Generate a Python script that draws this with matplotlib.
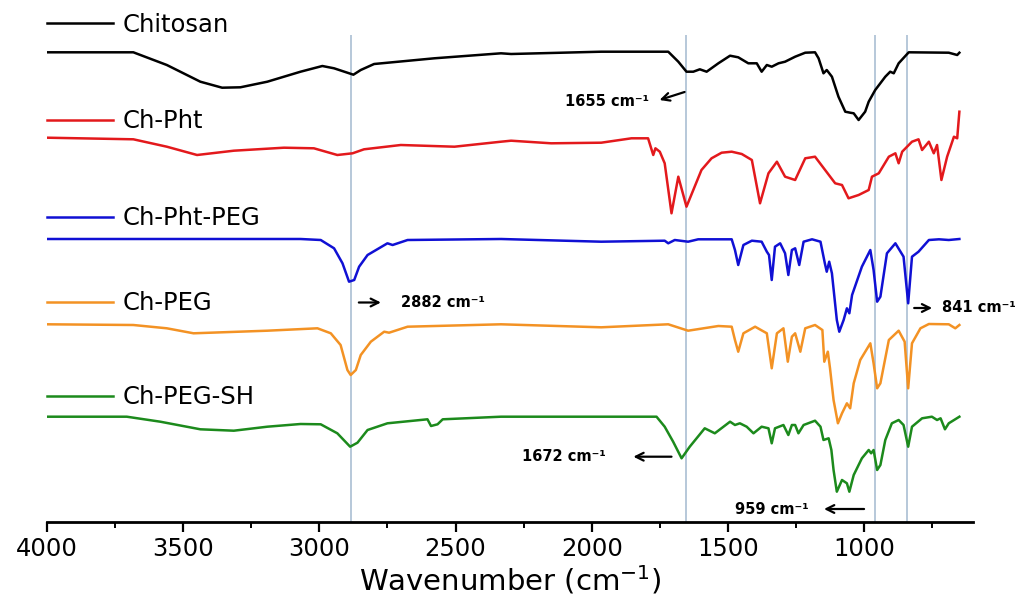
import matplotlib
matplotlib.use("Agg")
import matplotlib.pyplot as plt
from matplotlib.ticker import MultipleLocator
from matplotlib.legend import Legend

# ---------------- data (wavenumber cm-1, offset transmittance a.u.) ----------------
chitosan_wn = [4000, 3683, 3560, 3437, 3357, 3290, 3191, 3069, 2989, 2946, 2875, 2848, 2799, 2578,
               2333, 2296, 1965, 1719, 1682, 1652, 1627, 1603, 1578, 1535, 1492, 1462, 1425, 1394,
               1376, 1357, 1339, 1314, 1290, 1253, 1216, 1180, 1167, 1149, 1137, 1118, 1094, 1069,
               1051, 1038, 1020, 996, 983, 959, 922, 904, 891, 873, 836, 689, 658, 650]
chitosan_t = [469.7, 469.7, 457, 440.3, 434.3, 434.7, 440.3, 450.3, 456, 453.7, 447.3, 452, 458, 463.7,
              468.7, 468, 470.3, 470.3, 460.3, 450.3, 450.3, 452.7, 450.3, 458.7, 466.3, 464.7, 458.7, 458.7,
              450.3, 457, 455.3, 458.7, 460.3, 465.3, 469.3, 469.7, 463.7, 448.7, 452, 445.3, 425.3, 410.3,
              409.3, 408.7, 402, 410.3, 420.3, 432, 445.3, 450.3, 448.7, 458.7, 469.7, 469.3, 467, 469.3]

chpht_wn = [4000, 3683, 3560, 3449, 3314, 3130, 3020, 2934, 2878, 2836, 2701, 2504, 2333, 2296, 2149,
            1965, 1854, 1793, 1774, 1766, 1750, 1732, 1707, 1682, 1652, 1627, 1597, 1560, 1523, 1486,
            1449, 1412, 1382, 1351, 1320, 1290, 1253, 1216, 1180, 1143, 1106, 1081, 1057, 1020, 983,
            971, 946, 909, 885, 873, 860, 824, 800, 787, 762, 744, 732, 716, 695, 670, 658, 650]
chpht_t = [384.3, 382.7, 375.3, 367, 371.3, 374.3, 373.7, 367, 368.7, 372.7, 377, 375.3, 380.3, 381.3, 378.7,
           379.3, 383.7, 383.7, 367, 373.7, 370.3, 358.7, 308.7, 345.3, 315.3, 332, 352, 363.7, 369.3, 370.3,
           368, 362, 318.7, 348.7, 360.3, 345.3, 342, 363.7, 365.3, 352, 338.7, 337, 323.7, 327, 332,
           345.3, 348.7, 365.3, 368.7, 358.7, 370.3, 380.3, 382.7, 372, 380.3, 368.7, 377, 342, 365.3, 385.3,
           383.7, 410.3]

chphtpeg_wn = [4000, 3069, 2995, 2946, 2915, 2891, 2872, 2854, 2823, 2750, 2731, 2676, 2333, 1965, 1732,
               1719, 1695, 1646, 1609, 1486, 1474, 1462, 1443, 1412, 1376, 1357, 1349, 1339, 1327, 1308,
               1290, 1278, 1265, 1253, 1238, 1222, 1191, 1160, 1144, 1137, 1128, 1118, 1100, 1091, 1075,
               1063, 1054, 1044, 1008, 977, 965, 952, 940, 916, 885, 855, 838, 824, 800, 762, 725, 689, 650]
chphtpeg_t = [283, 283, 282, 273.7, 258.7, 240.3, 242, 255.3, 267, 278.7, 277, 282, 283, 280.3, 281.3,
              278.7, 282, 280.3, 282.7, 282.7, 272, 257, 277, 281.3, 280.3, 270.3, 267, 242, 275.3, 278.7,
              268.7, 247, 272, 273.7, 257, 280.3, 282.7, 280.3, 258.7, 250.3, 260.3, 248.7, 202, 190.3, 202,
              213.7, 208.7, 227, 255.3, 272, 252, 220.3, 225.3, 268.7, 278.7, 265.3, 218.7, 265.3, 270.3, 282,
              282.7, 282, 283]

chpeg_wn = [4000, 3683, 3560, 3462, 3191, 3007, 2958, 2922, 2897, 2885, 2866, 2848, 2811, 2762, 2744,
            2676, 2333, 1965, 1719, 1646, 1535, 1486, 1474, 1462, 1443, 1400, 1357, 1339, 1320, 1296,
            1280, 1265, 1253, 1234, 1216, 1180, 1153, 1146, 1133, 1125, 1112, 1096, 1081, 1063, 1051,
            1038, 1014, 977, 965, 952, 940, 909, 873, 851, 838, 824, 793, 762, 689, 665, 650]
chpeg_t = [197.7, 197, 193.7, 188.7, 191.3, 193.7, 188.7, 177, 152, 147, 152, 167, 180.3, 190.3, 189.3,
           195.3, 197.7, 194.7, 197.7, 191.3, 196, 195.3, 182, 170.3, 188.7, 195.3, 188.7, 153.7, 188.7, 193.7,
           160.3, 185.3, 188.7, 170.3, 193.7, 197, 192, 160.3, 170.3, 153.7, 122, 98.7, 108.7, 118.7, 113.7,
           138.7, 162, 178.7, 158.7, 133.7, 138.7, 182, 191.3, 180.3, 133.7, 178.7, 193.7, 198, 197.7, 193.7,
           197]

chpegsh_wn = [4000, 3707, 3584, 3437, 3314, 3191, 3069, 2995, 2934, 2887, 2860, 2823, 2750, 2603, 2590,
              2566, 2547, 2333, 1965, 1854, 1762, 1732, 1701, 1670, 1640, 1585, 1548, 1492, 1474, 1456,
              1431, 1406, 1376, 1351, 1339, 1327, 1296, 1278, 1265, 1253, 1241, 1222, 1180, 1160, 1149,
              1130, 1120, 1112, 1100, 1081, 1063, 1054, 1038, 1008, 983, 974, 965, 952, 940, 922, 898,
              873, 855, 838, 824, 787, 751, 732, 719, 703, 689, 650]
chpegsh_t = [105.3, 105.3, 100.3, 92.7, 91.3, 95.3, 98, 97.7, 88.7, 75.3, 79.3, 92, 98.7, 102.7, 96,
             97.7, 102.7, 105.3, 105.3, 105.3, 105.3, 95.3, 80.3, 63.7, 75.3, 93.7, 88.7, 100.3, 97, 98.7,
             95.3, 88.7, 95.3, 93.7, 78.7, 93.7, 97, 87, 97, 97, 88.7, 97, 101.3, 95.3, 82,
             83.7, 72, 52, 30.3, 42, 38.7, 30.3, 47, 63.7, 72, 68.7, 72, 52, 57, 82, 98.7,
             102, 97, 75.3, 95.3, 103.7, 105.3, 102, 103.7, 92.7, 98.7, 105.3]

series_names = ["Chitosan", "Ch-Pht", "Ch-Pht-PEG", "Ch-PEG", "Ch-PEG-SH"]
series_wn = [chitosan_wn, chpht_wn, chphtpeg_wn, chpeg_wn, chpegsh_wn]
series_t = [chitosan_t, chpht_t, chphtpeg_t, chpeg_t, chpegsh_t]
series_colors = ["#000000", "#e3191c", "#1010d4", "#f39224", "#1c8a1c"]
legend_levels = [0.953, 0.768, 0.582, 0.419, 0.239]

marker_lines = [2882, 1655, 959, 841]

# annotations: text, text position (wn, t), ha, arrow tail (wn, t), arrow head (wn, t)
annotations = [
    ("1655 cm⁻¹", (1790, 420), "right", (1659, 430), (1751, 422)),
    ("2882 cm⁻¹", (2701, 219.5), "left", (2855, 219.5), (2774, 219.5)),
    ("841 cm⁻¹", (713, 214), "left", (816, 214), (750, 214)),
    ("1672 cm⁻¹", (2255, 65.3), "left", (1707, 65.3), (1847, 65.3)),
    ("959 cm⁻¹", (1475, 13), "left", (1000, 13), (1147, 13)),
]

# ---------------- figure ----------------
plt.rcParams['font.family'] = ['DejaVu Sans']
fig = plt.figure(figsize=(10.19, 6.01), dpi=100)
ax = fig.add_axes([47 / 1019, 79 / 601, (973 - 47) / 1019, 522 / 601])

ax.vlines(marker_lines, 0, 487, color="#a3b9cf", lw=1.1, zorder=1)

lines = []
for wn, t, c in zip(series_wn, series_t, series_colors):
    ln, = ax.plot(wn, t, color=c, lw=1.8, solid_joinstyle="round", zorder=3)
    lines.append(ln)

for ln, name, lev in zip(lines, series_names, legend_levels):
    leg = Legend(ax, [ln], [name], loc="center left", bbox_to_anchor=(0.0, lev),
                 frameon=False, fontsize=17.5, handlelength=2.7, handletextpad=0.4,
                 borderpad=0, borderaxespad=0)
    ax.add_artist(leg)

for txt, tpos, ha, tail, head in annotations:
    ax.text(tpos[0], tpos[1], txt, ha=ha, va="center", fontsize=10.5, fontweight="bold",
            clip_on=False)
    ax.annotate("", xy=head, xytext=tail,
                arrowprops=dict(arrowstyle="->", lw=1.6, color="black",
                                shrinkA=0, shrinkB=0, mutation_scale=14))

ax.set_xlim(4000, 600)
ax.set_ylim(0, 522)
for s in ["left", "top", "right"]:
    ax.spines[s].set_visible(False)
ax.spines["bottom"].set_linewidth(2)
ax.set_yticks([])
ax.xaxis.set_major_locator(MultipleLocator(500))
ax.xaxis.set_minor_locator(MultipleLocator(250))
ax.set_xticks([4000, 3500, 3000, 2500, 2000, 1500, 1000])
ax.tick_params(axis="x", which="major", length=7, width=1.6, labelsize=17.5, pad=4, direction="out")
ax.tick_params(axis="x", which="minor", length=4, width=1.4, direction="out")
ax.set_xlabel("Wavenumber (cm$^{-1}$)", fontsize=21, labelpad=2)

fig.savefig("out.png", dpi=100)
